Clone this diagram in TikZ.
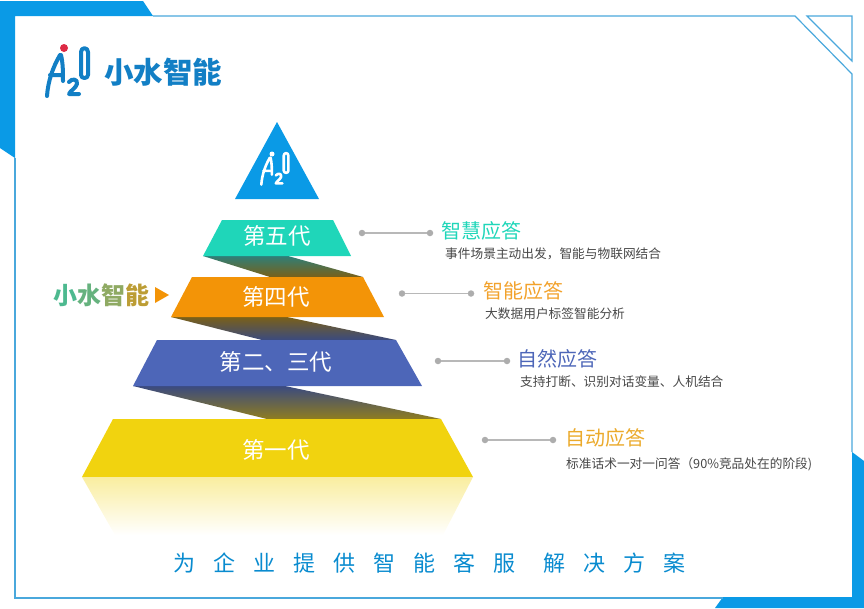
\documentclass[tikz,border=0pt]{standalone}
\usepackage{fontspec}
\setmainfont{Noto Sans CJK SC}
\newfontfamily\spacedfont[LetterSpace=82]{Noto Sans CJK SC}
\usepackage{tikz}
\usetikzlibrary{calc}

\definecolor{frameblue}{HTML}{0A9AE6}
\definecolor{linecolor}{HTML}{4AA8DC}
\definecolor{logoblue}{HTML}{127FC5}
\definecolor{logored}{HTML}{DD2A45}
\definecolor{tealgen}{HTML}{1FD6B9}
\definecolor{orangegen}{HTML}{F39407}
\definecolor{bluegen}{HTML}{4D66B8}
\definecolor{yellowgen}{HTML}{F1D30F}
\definecolor{tealshade}{HTML}{2F7F78}
\definecolor{brownshade}{HTML}{7A6018}
\definecolor{blueshade}{HTML}{3A4A80}
\definecolor{oliveshade}{HTML}{8F7D1F}
\definecolor{titleorange}{HTML}{F2A22C}
\definecolor{titleamber}{HTML}{EBAA2C}

\tikzset{
  level text/.style={text=white, font=\fontsize{22.5}{24}\selectfont, inner sep=0pt},
  title text/.style={anchor=west, font=\fontsize{20}{22}\selectfont, inner sep=0pt},
  sub text/.style={anchor=west, text=black!72, font=\fontsize{12.7}{14}\selectfont, inner sep=0pt},
  lead dot/.style={circle, fill=black!32, minimum size=6.5pt, inner sep=0pt},
  lead line/.style={draw=black!28, line width=1.1pt},
  frame line/.style={draw=linecolor, line width=1.2pt},
  aiomark/.pic={
    \path[pic actions, fill=none, line cap=round, line join=round]
      (2,51) .. controls (3,36) and (8,22) .. (15,10)
      (5,30) -- (18,30)
      (16,10) .. controls (18,18) and (18,28) .. (18,36)
      (24,37) .. controls (27,33) and (33,34) .. (32,39) .. controls (31,43) and (25,46) .. (24,49) -- (34,49)
      (36,7) .. controls (36,2) and (43,2) .. (43,7) -- (43,30) .. controls (43,34) and (36,34) .. (36,30) -- cycle;
  }
}

\begin{document}
\begin{tikzpicture}[x=1pt, y=-1pt]
  \useasboundingbox (0,0) rectangle (864,608);

  % frame
  \fill[frameblue] (0,1) -- (143,1) -- (153,16) -- (15,16) -- (15,158) -- (0,148) -- cycle;
  \fill[frameblue] (852,452) -- (864,461) -- (864,608) -- (715,608) -- (723,597) -- (852,597) -- cycle;
  \draw[frame line] (15,158) -- (15,598) -- (723,598);
  \draw[frame line] (153,16) -- (795,16) -- (852,74) -- (852,452);
  \draw[frame line] (807,16) -- (852,16) -- (852,61) -- cycle;

  % logo
  \pic[draw=logoblue, line width=4pt] at (45,45) {aiomark};
  \node[circle, fill=logored, minimum size=8pt, inner sep=0pt] (logodot) at (64,48) {};
  \node[text=logoblue, font=\fontsize{29.5}{31}\bfseries\selectfont, inner sep=0pt] (logotext) at (163,72) {小水智能};

  % shadows
  \shade[top color=tealshade, bottom color=brownshade] (203,256) -- (288,256) -- (363,277) -- (270,277) -- cycle;
  \shade[top color=brownshade, bottom color=blueshade] (171,317) -- (287,317) -- (396,340) -- (262,340) -- cycle;
  \shade[top color=blueshade, bottom color=oliveshade] (133,386) -- (285,386) -- (441,419) -- (267,419) -- cycle;

  % pyramid
  \fill[frameblue] (277,122) -- (319,199) -- (235,199) -- cycle;
  \pic[draw=white, line width=2.6pt, scale=0.66] at (260,151) {aiomark};
  \node[circle, fill=white, minimum size=5pt, inner sep=0pt] (markdot) at (272,154) {};
  \fill[tealgen] (222,220) -- (333,220) -- (351,256) -- (203,256) -- cycle;
  \fill[orangegen] (192,277) -- (363,277) -- (384,317) -- (171,317) -- cycle;
  \fill[bluegen] (157,340) -- (396,340) -- (422,386) -- (133,386) -- cycle;
  \fill[yellowgen] (113,419) -- (441,419) -- (473,477) -- (82,477) -- cycle;
  \shade[top color=yellowgen!40, middle color=yellowgen!12, bottom color=white] (82,477) -- (473,477) -- (443,535) -- (115,535) -- cycle;

  \node[level text] (gen5) at (277,236) {第五代};
  \node[level text] (gen4) at (276,297) {第四代};
  \node[level text] (gen3) at (276,362) {第二、三代};
  \node[level text] (gen1) at (276,450) {第一代};

  % side mark
  \node[font=\fontsize{24}{26}\bfseries\selectfont, inner sep=0pt] (sidetext) at (101,295)
    {\textcolor[HTML]{4DB98F}{小}\textcolor[HTML]{66B27E}{水}\textcolor[HTML]{8FAA63}{智}\textcolor[HTML]{BC9D35}{能}};
  \fill[orangegen] (155,287) -- (169,295) -- (155,303) -- cycle;

  % leaders
  \node[lead dot] (a1) at (362,233) {};
  \node[lead dot] (b1) at (430,233) {};
  \node[lead dot] (a2) at (402,293.5) {};
  \node[lead dot] (b2) at (471,293.5) {};
  \node[lead dot] (a3) at (438,361) {};
  \node[lead dot] (b3) at (507,361) {};
  \node[lead dot] (a4) at (485,440) {};
  \node[lead dot] (b4) at (553,440) {};
  \foreach \n in {1,2,3,4} {
    \draw[lead line] (a\n) -- (b\n);
  }

  % descriptions
  \node[title text, text=tealgen] (title5) at (441,231) {智慧应答};
  \node[sub text] (sub5) at (445,254) {事件场景主动出发，智能与物联网结合};
  \node[title text, text=titleorange] (title4) at (483.5,291) {智能应答};
  \node[sub text] (sub4) at (485,314) {大数据用户标签智能分析};
  \node[title text, text=bluegen] (title3) at (517,359) {自然应答};
  \node[sub text] (sub3) at (520,382) {支持打断、识别对话变量、人机结合};
  \node[title text, text=titleamber] (title1) at (565,438) {自动应答};
  \node[sub text] (sub1) at (566,464) {标准话术一对一问答（90\%竞品处在的阶段)};

  % slogan
  \node[text=frameblue!90!black, font=\spacedfont\fontsize{22}{24}\selectfont, anchor=west, inner sep=0pt] (slogan) at (173,563)
    {为企业提供智能客服\hspace{28pt}解决方案};
\end{tikzpicture}
\end{document}
